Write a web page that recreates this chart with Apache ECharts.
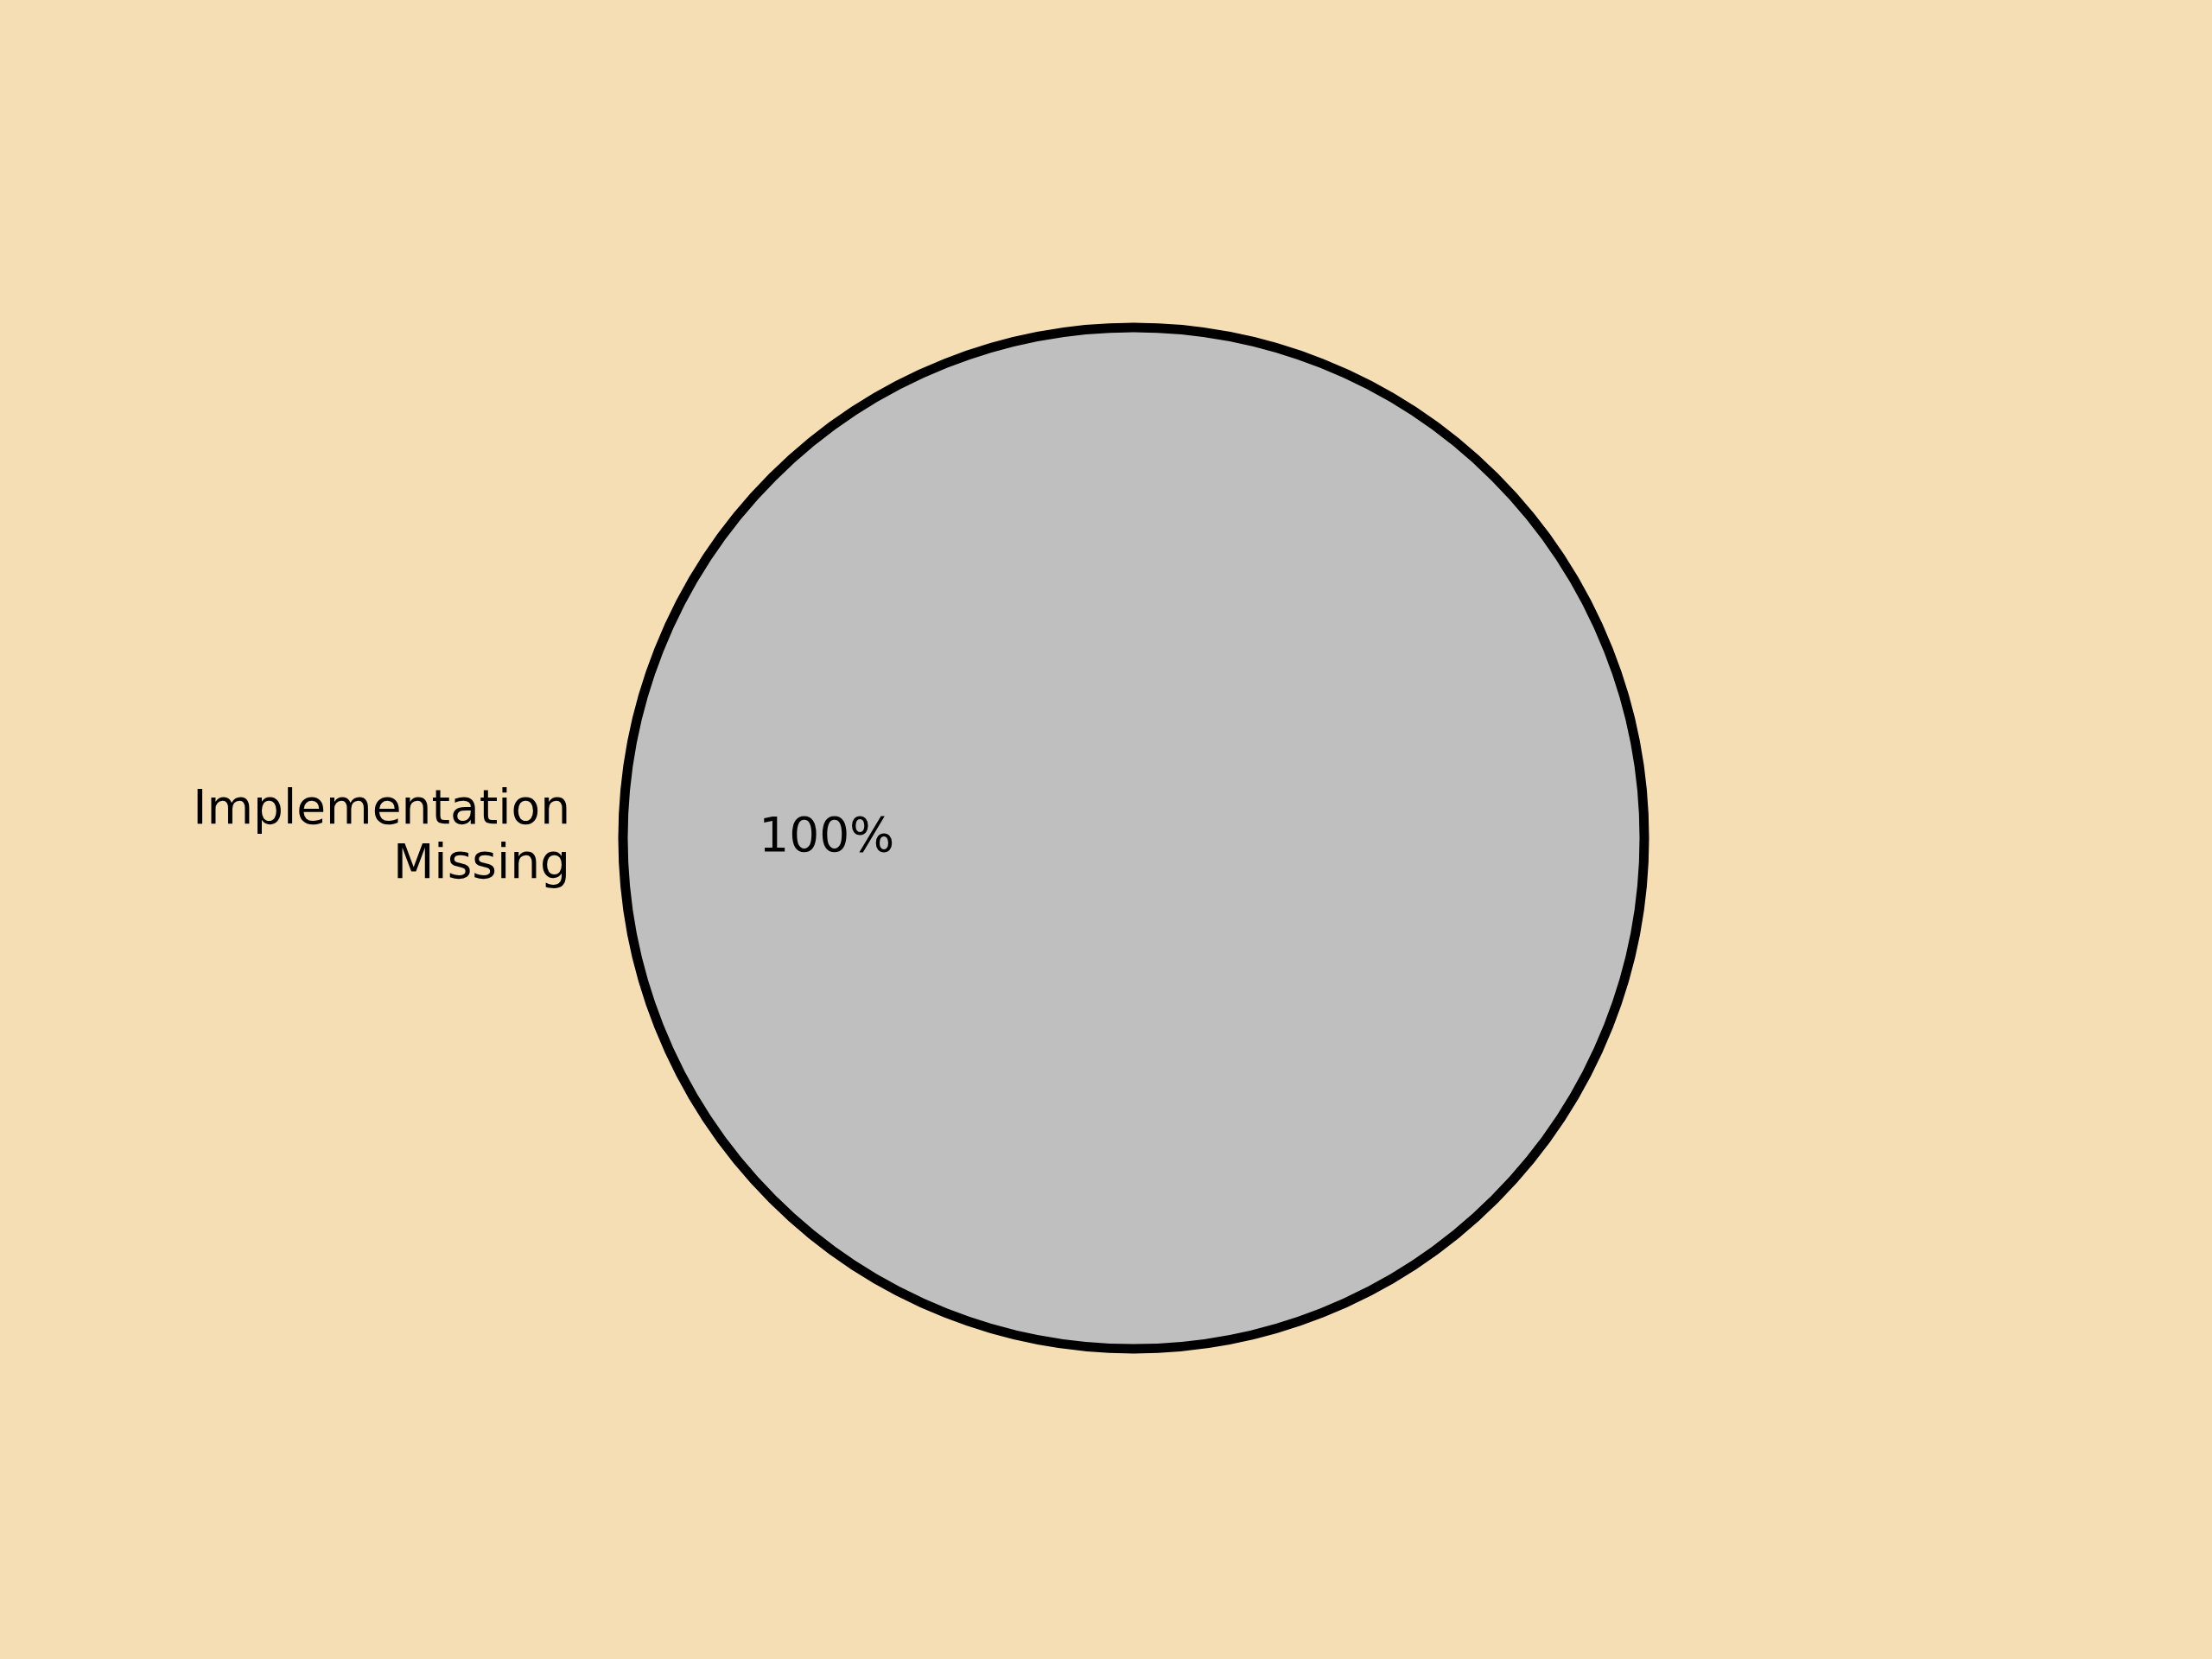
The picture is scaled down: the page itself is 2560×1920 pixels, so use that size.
<!DOCTYPE html>
<html>
<head>
<meta charset="utf-8">
<title>Implementation status</title>
<script src="https://cdn.jsdelivr.net/npm/echarts@6/dist/echarts.min.js"></script>
<style>
  html, body { margin: 0; padding: 0; background: #f5deb3; }
  #chart { width: 2560px; height: 1920px; }
</style>
</head>
<body>
<div id="chart"></div>
<script>
// categories and values
const categories = ['Implementation\nMissing'];
const values = [1];
const sliceColors = ['#bfbfbf'];

const chart = echarts.init(document.getElementById('chart'), null, { renderer: 'canvas' });

const R = 591;          // pie radius in px
const center = [1312, 970];
const fontBase = { fontFamily: 'DejaVu Sans', fontSize: 55, color: '#000' };

const pieData = categories.map((name, i) => ({
  name: name,
  value: values[i],
  itemStyle: { color: sliceColors[i] }
}));

const option = {
  backgroundColor: '#f5deb3',
  animation: false,
  series: [
    {
      // visible pie with category labels outside
      type: 'pie',
      center: center,
      radius: [0, R],
      startAngle: 0,
      clockwise: true,
      avoidLabelOverlap: false,
      itemStyle: { borderColor: '#000', borderWidth: 11 },
      label: {
        show: true,
        position: 'outside',
        formatter: '{b}',
        distanceToLabelLine: 61,
        lineHeight: 63,
        ...fontBase
      },
      labelLine: { show: false, length: 0, length2: 0 },
      emphasis: { disabled: true },
      data: pieData
    },
    {
      // transparent overlay, only used to put the percent near 0.6 * R
      type: 'pie',
      center: [center[0], center[1] + 1],
      radius: [0, R * 1.192],
      startAngle: 0,
      clockwise: true,
      silent: true,
      z: 3,
      itemStyle: { color: 'rgba(0,0,0,0)', borderWidth: 0 },
      label: {
        show: true,
        position: 'inside',
        formatter: p => Math.round(p.percent) + '%',
        ...fontBase
      },
      labelLine: { show: false },
      emphasis: { disabled: true },
      data: pieData.map(d => ({ name: d.name, value: d.value }))
    }
  ]
};

chart.setOption(option);
</script>
</body>
</html>
